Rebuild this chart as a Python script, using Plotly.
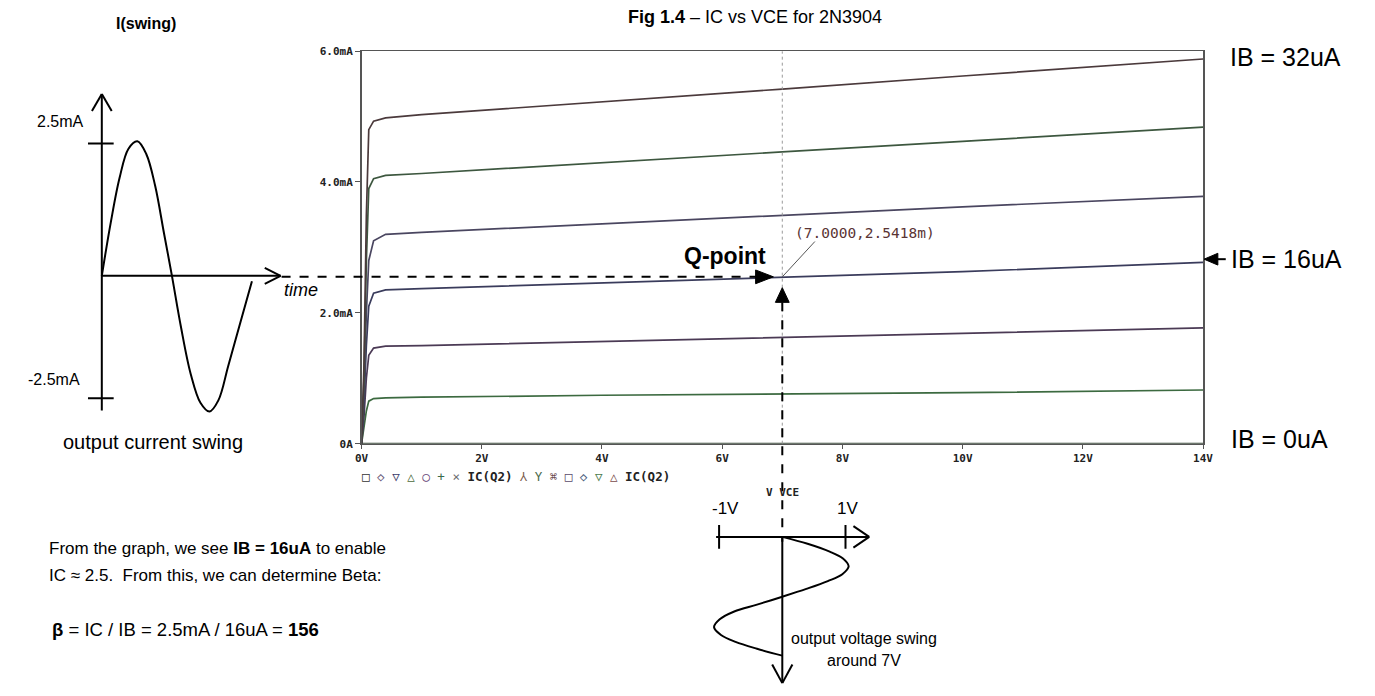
import plotly.graph_objects as go

W, H = 1375, 696

# ---------------- main chart data: IC (mA) vs VCE (V) ----------------
vce = [0, 0.04, 0.08, 0.12, 0.2, 0.4, 1, 4, 7, 10, 14]
ic_32 = [0, 1.2, 3.5, 4.80, 4.93, 4.98, 5.03, 5.22, 5.42, 5.62, 5.88]
ic_27 = [0, 1.0, 2.8, 3.90, 4.05, 4.10, 4.13, 4.30, 4.46, 4.62, 4.84]
ic_21 = [0, 0.8, 2.0, 2.80, 3.10, 3.20, 3.23, 3.36, 3.50, 3.62, 3.78]
ic_16 = [0, 0.6, 1.5, 2.10, 2.30, 2.35, 2.37, 2.46, 2.54, 2.63, 2.77]
ic_11 = [0, 0.4, 1.0, 1.35, 1.46, 1.49, 1.50, 1.56, 1.62, 1.68, 1.77]
ic_5 = [0, 0.25, 0.5, 0.65, 0.69, 0.70, 0.71, 0.74, 0.76, 0.78, 0.82]
ic_0 = [0, 0, 0, 0, 0, 0, 0, 0, 0, 0, 0]
curve_colors = ["#4b3a3c", "#3d573f", "#4a4660", "#3a3c5c", "#4b3a55", "#3c6a40", "#3b4a3b"]

x_ticks = [0, 2, 4, 6, 8, 10, 12, 14]
x_ticktext = ["0V", "2V", "4V", "6V", "8V", "10V", "12V", "14V"]
y_ticks = [0, 2, 4, 6]
y_ticktext = ["0A", "2.0mA", "4.0mA", "6.0mA"]

q_vce, q_ic = 7.0, 2.5418

# ---------------- output current swing sketch (t in px-units, I in mA) ----------------
t_i = [0, 9, 18, 27, 36, 45, 54, 63, 71, 80, 90, 100, 109, 118, 128, 140, 152]
i_swing = [0, 1.0, 1.85, 2.4, 2.54, 2.3, 1.7, 0.8, 0, -0.95, -1.85, -2.4, -2.56, -2.35, -1.7, -0.9, -0.1]

# ---------------- output voltage swing sketch (V, t downward) ----------------
t_v = [0, 7, 15, 22, 30, 38, 45, 53, 61, 69, 76, 84, 92, 100, 107, 114, 121]
v_swing = [0, 0.4, 0.75, 0.96, 1.05, 0.95, 0.72, 0.38, 0, -0.4, -0.76, -0.99, -1.08, -0.97, -0.74, -0.4, 0]


def px(x):
    return x / W


def py(y):
    return 1 - y / H


fig = go.Figure()

for ic, col in zip([ic_0, ic_5, ic_11, ic_16, ic_21, ic_27, ic_32], curve_colors[::-1]):
    fig.add_trace(go.Scatter(x=vce, y=ic, mode="lines", line=dict(color=col, width=1.7),
                             xaxis="x", yaxis="y", showlegend=False, hoverinfo="skip"))

fig.add_trace(go.Scatter(x=t_i, y=i_swing, mode="lines", line=dict(color="black", width=2, shape="spline"),
                         xaxis="x2", yaxis="y2", showlegend=False, hoverinfo="skip"))
fig.add_trace(go.Scatter(x=v_swing, y=t_v, mode="lines", line=dict(color="black", width=2, shape="spline"),
                         xaxis="x3", yaxis="y3", showlegend=False, hoverinfo="skip"))

tickfont = dict(family="DejaVu Sans Mono", size=11, color="#222", weight="bold")
fig.update_layout(
    width=W, height=H, margin=dict(l=0, r=0, t=0, b=0),
    paper_bgcolor="white", plot_bgcolor="white",
    xaxis=dict(domain=[px(359), px(1211)], range=[0, 14], tickvals=x_ticks, ticktext=x_ticktext,
               showline=True, mirror=True, linecolor="#555", linewidth=1.5, ticks="outside",
               ticklen=4, tickcolor="#555", tickfont=tickfont, showgrid=False, zeroline=False,
               anchor="y", fixedrange=True),
    yaxis=dict(domain=[py(446), py(46)], range=[0, 6], tickvals=y_ticks, ticktext=y_ticktext,
               showline=True, mirror=True, linecolor="#555", linewidth=1.5, ticks="outside",
               ticklen=5, tickcolor="#555", tickfont=tickfont, showgrid=False, zeroline=False,
               anchor="x", fixedrange=True),
    xaxis2=dict(domain=[px(60), px(300)], range=[-36, 204], visible=False, anchor="y2", fixedrange=True),
    yaxis2=dict(domain=[py(440), py(60)], range=[(275 - 440) / 54, (275 - 60) / 54], visible=False,
                anchor="x2", fixedrange=True),
    xaxis3=dict(domain=[px(690), px(900)], range=[(690 - 785) / 64, (900 - 785) / 64], visible=False,
                anchor="y3", fixedrange=True),
    yaxis3=dict(domain=[0, py(495)], range=[696 - 541, 495 - 541], visible=False, anchor="x3", fixedrange=True),
)

shapes = []


def seg(x0, y0, x1, y1, ref, color="black", width=2, dash="solid"):
    xr, yr = ref
    shapes.append(dict(type="line", xref=xr, yref=yr, x0=x0, y0=y0, x1=x1, y1=y1,
                       line=dict(color=color, width=width, dash=dash)))


# left sketch axes
r2 = ("x2", "y2")
seg(0, -2.54, 0, 3.43, r2)
seg(0, 3.43, -10, 3.11, r2)
seg(0, 3.43, 10, 3.11, r2)
seg(0, 0, 181, 0, r2)
seg(181, 0, 165, 0.15, r2)
seg(181, 0, 165, -0.15, r2)
seg(-14, 2.5, 12, 2.5, r2)
seg(-14, -2.31, 12, -2.31, r2)

# bottom sketch axes
r3 = ("x3", "y3")
seg(-1.047, 0, 1.375, 0, r3)
seg(1.375, 0, 1.125, -11, r3)
seg(1.375, 0, 1.125, 11, r3)
seg(-1, -12, -1, 12, r3)
seg(1, -12, 1, 12, r3)
seg(0, 0, 0, 149, r3)
seg(0, 149, -0.16, 130, r3)
seg(0, 149, 0.16, 130, r3)

# cursor line at VCE = 7
seg(q_vce, 0, q_vce, 6, ("x", "y"), color="#9a9a9a", width=1, dash="dot")

P = ("paper", "paper")
# leader line for cursor label
seg(px(785), py(276), px(818), py(240), P, color="#555", width=1)
# dashed pointer lines
seg(px(278), py(276), px(760), py(276), P, width=2, dash="dash")
seg(px(785), py(302), px(785), py(546), P, width=2, dash="dash")
# IB=16uA arrow shaft
seg(px(1224), py(258), px(1234), py(258), P, width=2)


def tri(pts):
    d = "M " + " L ".join(f"{px(a):.5f},{py(b):.5f}" for a, b in pts) + " Z"
    shapes.append(dict(type="path", xref="paper", yref="paper", path=d,
                       fillcolor="black", line=dict(color="black", width=1)))


tri([(776, 276), (758, 269), (758, 283)])
tri([(785, 287), (778, 302), (792, 302)])
tri([(1212, 258), (1226, 252), (1226, 264)])

fig.update_layout(shapes=shapes)

ann = []


def txt(x, y, s, size=16, anchor="center", family="Liberation Sans, Arial", color="black", yanchor="middle"):
    ann.append(dict(x=px(x), y=py(y), xref="paper", yref="paper", text=s, showarrow=False,
                    xanchor=anchor, yanchor=yanchor, font=dict(family=family, size=size, color=color)))


txt(757, 11, "<b>Fig 1.4</b> – IC vs VCE for 2N3904", size=18)
txt(141, 18, "<b>I(swing)</b>", size=16)
txt(54, 118, "2.5mA", size=16)
txt(48, 381, "-2.5mA", size=16)
txt(278, 289, "<i>time</i>", size=18, anchor="left")
txt(148, 444, "output current swing", size=20)
txt(1236, 52, "IB = 32uA", size=25, anchor="left")
txt(1237, 258, "IB = 16uA", size=25, anchor="left")
txt(1237, 441, "IB = 0uA", size=25, anchor="left")
txt(727, 255, "<b>Q-point</b>", size=23)
txt(796, 231, "(7.0000,2.5418m)", size=14.5, anchor="left", family="DejaVu Sans Mono", color="#5a3434")
leg = ("<span style='color:#333'>□</span> <span style='color:#6a5a7a'>◇</span> "
       "<span style='color:#3a3a6a'>▽</span> <span style='color:#4a6a3a'>△</span> "
       "<span style='color:#6a4a7a'>○</span> <span style='color:#3a6a4a'>+</span> "
       "<span style='color:#6a6a6a'>×</span> <b>IC(Q2)</b> <span style='color:#7a5a4a'>⅄</span> "
       "<span style='color:#4a6a4a'>Y</span> <span style='color:#6a4a4a'>⌘</span> "
       "<span style='color:#5a4a6a'>□</span> <span style='color:#4a5a7a'>◇</span> "
       "<span style='color:#4a7a4a'>▽</span> <span style='color:#7a4a4a'>△</span> <b>IC(Q2)</b>")
txt(357, 479, leg, size=12.5, anchor="left", family="DejaVu Sans Mono", color="#222")
txt(785, 496, "<b>V VCE</b>", size=11, family="DejaVu Sans Mono", color="#222")
txt(727, 512, "-1V", size=17)
txt(851, 512, "1V", size=17)
txt(868, 645, "output voltage swing", size=16)
txt(868, 667, "around 7V", size=16)
txt(40, 553, "From the graph, we see <b>IB = 16uA</b> to enable", size=17, anchor="left")
txt(40, 580, "IC ≈ 2.5.  From this, we can determine Beta:", size=17, anchor="left")
txt(44, 635, "<b>β</b> = IC / IB = 2.5mA / 16uA = <b>156</b>", size=18.5, anchor="left")

fig.update_layout(annotations=ann)

fig.write_html("out.html", config={"displayModeBar": False, "staticPlot": True},
               post_script="document.body.style.margin='0';document.body.style.overflow='hidden';")
